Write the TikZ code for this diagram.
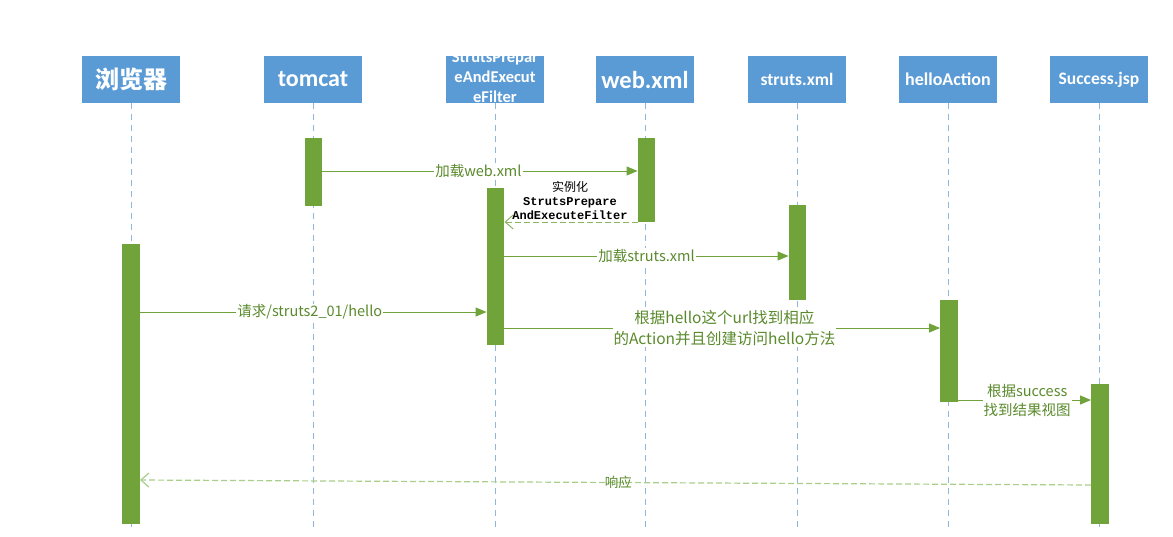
\documentclass[tikz,border=0pt]{standalone}
\usepackage{fontspec}
\setmainfont{Carlito}
\newfontfamily\cjk{Noto Sans CJK SC}
\newfontfamily\mono{Liberation Mono}
\usetikzlibrary{arrows.meta}
\definecolor{hdr}{HTML}{5B9BD5}
\definecolor{life}{HTML}{8FB5E0}
\definecolor{barg}{HTML}{70A33A}
\definecolor{lineg}{HTML}{70A33A}
\definecolor{txtg}{HTML}{5A8A2C}
\definecolor{retg}{HTML}{A9CF8A}
\tikzset{
  hdrbox/.style={fill=hdr, text=white, minimum width=98pt, minimum height=47pt, inner sep=1pt, align=center, font=\bfseries},
  lifeline/.style={draw=life, dash pattern=on 6pt off 5pt, line width=0.9pt},
  actbar/.style={fill=barg, minimum width=17.5pt, inner sep=0pt},
  msg/.style={draw=lineg, line width=1pt, -{Triangle[length=11pt,width=9pt]}},
  ret/.style={draw=retg, line width=1.2pt, dash pattern=on 6pt off 3pt, -{Straight Barb[length=8pt,width=14pt]}},
  retdk/.style={draw=lineg!80, line width=1pt, dash pattern=on 6pt off 3pt, -{Straight Barb[length=8pt,width=14pt]}},
  lbl/.style={fill=white, text=txtg, font=\cjk\fontsize{14.5}{17}\selectfont, inner sep=1pt, align=center},
}
\begin{document}
\begin{tikzpicture}[x=1pt,y=-1pt]
\useasboundingbox[fill=white] (0,0) rectangle (1173,536);
% headers
\node[hdrbox, font=\cjk\bfseries\fontsize{24}{26}\selectfont] (h1) at (131,79.5) {浏览器};
\node[hdrbox, font=\bfseries\fontsize{24}{26}\selectfont] (h2) at (313,79.5) {tomcat};
\node[hdrbox] (h3) at (495,79.5) {};
\node[text=white, align=center, inner sep=0pt, font=\bfseries\fontsize{16.5}{20}\selectfont] (h3t) at (495,77) {StrutsPrepar\\eAndExecut\\eFilter};
\node[hdrbox, font=\bfseries\fontsize{24.5}{26}\selectfont] (h4) at (645,79.5) {web.xml};
\node[hdrbox, font=\bfseries\fontsize{17.5}{20}\selectfont] (h5) at (797,79.5) {struts.xml};
\node[hdrbox, font=\bfseries\fontsize{18}{20}\selectfont] (h6) at (948,79.5) {helloAction};
\node[hdrbox, font=\bfseries\fontsize{17.5}{20}\selectfont] (h7) at (1099,79.5) {Success.jsp};
% lifeline ends
\foreach \i/\x in {1/131,2/313,3/495,4/645,5/797,6/948,7/1099}{
  \coordinate (e\i) at (\x,532);
  \draw[lifeline] (h\i.south) -- (e\i);
}
% activation bars
\node[actbar, minimum height=68pt] (b2) at (313.5,172) {};
\node[actbar, minimum height=84pt] (b4) at (646.5,180) {};
\node[actbar, minimum height=157pt] (b3) at (495.5,266.5) {};
\node[actbar, minimum height=280pt] (b1) at (131,384) {};
\node[actbar, minimum height=95pt] (b5) at (797.5,252.5) {};
\node[actbar, minimum height=102pt] (b6) at (949,351) {};
\node[actbar, minimum height=140pt] (b7) at (1100,454) {};
% messages
\draw[msg] (b2.east |- 0,171) -- node[lbl, pos=0.495] (m1) {加载web.xml} (b4.west |- 0,171);
\draw[retdk] (b4.west |- 0,222) -- (b3.east |- 0,222);
\node[font=\fontsize{12}{14}\selectfont, align=center, inner sep=1pt] (m2) at (570,200)
  {{\cjk 实例化}\\{\mono\bfseries StrutsPrepare}\\{\mono\bfseries AndExecuteFilter}};
\draw[msg] (b3.east |- 0,256) -- node[lbl, pos=0.5] (m3) {加载struts.xml} (b5.west |- 0,256);
\draw[msg] (b1.east |- 0,312) -- node[lbl, pos=0.49] (m4) {请求/struts2\_01/hello} (b3.west |- 0,312);
\draw[msg] (b3.east |- 0,328) -- node[lbl, pos=0.505, font=\cjk\fontsize{15.5}{21}\selectfont] (m5) {根据hello这个url找到相应\\的Action并且创建访问hello方法} (b6.west |- 0,328);
\draw[msg] (b6.east |- 0,400) -- node[lbl, pos=0.52, font=\cjk\fontsize{14.5}{19}\selectfont] (m6) {根据success\\找到结果视图} (b7.west |- 0,400);
\coordinate (r1) at (b7.west |- 0,485);
\coordinate (r2) at (b1.east |- 0,480);
\draw[ret] (r1) -- node[lbl, pos=0.497, fill=none, font=\cjk\fontsize{13.5}{15}\selectfont] (m7) {响应} (r2);
\end{tikzpicture}
\end{document}
